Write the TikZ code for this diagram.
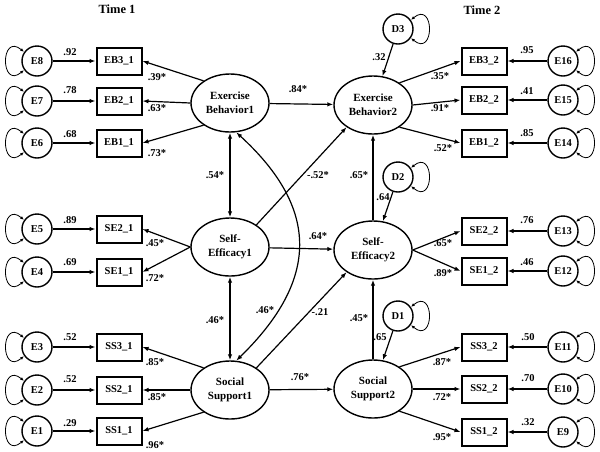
\documentclass[tikz,border=0pt]{standalone}
\usepackage{fontspec}
\setmainfont{Liberation Serif}
\usetikzlibrary{arrows.meta,shapes.geometric}
\begin{document}
\begin{tikzpicture}[x=1pt,y=-1pt,
  every node/.style={font=\bfseries\fontsize{10.5}{12}\selectfont},
  lat/.style={ellipse, draw, line width=1.4pt, minimum width=78pt, minimum height=58pt, inner sep=0pt, align=center, font=\bfseries\fontsize{11}{14}\selectfont},
  obs/.style={rectangle, draw, line width=2pt, minimum width=45pt, minimum height=27pt, inner sep=0pt},
  err/.style={circle, draw, line width=1.4pt, minimum size=30pt, inner sep=0pt},
  arr/.style={line width=1.2pt, -{Latex[length=6pt,width=4.5pt]}},
  dbl/.style={line width=1.2pt, {Latex[length=6pt,width=4.5pt]}-{Latex[length=6pt,width=4.5pt]}},
  lp/.style={line width=0.8pt, {Latex[length=4pt,width=3pt]}-{Latex[length=4pt,width=3pt]}},
  lab/.style={inner sep=0pt},
  ttl/.style={inner sep=0pt, font=\bfseries\fontsize{12.5}{14}\selectfont}
]
\useasboundingbox[fill=white] (0,0) rectangle (600,451);

% titles
\node[ttl] (t1) at (117,9) {Time 1};
\node[ttl] (t2) at (482,10) {Time 2};

% latent variables
\node[lat] (EBa) at (230,103) {Exercise\\Behavior1};
\node[lat] (SEa) at (230,247) {Self-\\Efficacy1};
\node[lat] (SSa) at (230,390) {Social\\Support1};
\node[lat] (EBb) at (373,105) {Exercise\\Behavior2};
\node[lat] (SEb) at (373,250) {Self-\\Efficacy2};
\node[lat] (SSb) at (373,389) {Social\\Support2};

% disturbances
\node[err] (D3) at (398,29) {D3};
\node[err] (D2) at (398,177) {D2};
\node[err] (D1) at (398,316) {D1};

% observed left
\node[obs] (eb31) at (119,61) {EB3\_1};
\node[obs] (eb21) at (119,101) {EB2\_1};
\node[obs] (eb11) at (119,143) {EB1\_1};
\node[obs] (se21) at (119,229) {SE2\_1};
\node[obs] (se11) at (119,272) {SE1\_1};
\node[obs] (ss31) at (119,347) {SS3\_1};
\node[obs] (ss21) at (119,390) {SS2\_1};
\node[obs] (ss11) at (119,431) {SS1\_1};
% observed right
\node[obs] (eb32) at (484,61) {EB3\_2};
\node[obs] (eb22) at (484,100) {EB2\_2};
\node[obs] (eb12) at (484,143) {EB1\_2};
\node[obs] (se22) at (484,231) {SE2\_2};
\node[obs] (se12) at (484,271) {SE1\_2};
\node[obs] (ss32) at (484,347) {SS3\_2};
\node[obs] (ss22) at (484,389) {SS2\_2};
\node[obs] (ss12) at (484,432) {SS1\_2};

% errors left
\node[err] (E8) at (37,61) {E8};
\node[err] (E7) at (37,101) {E7};
\node[err] (E6) at (37,143) {E6};
\node[err] (E5) at (37,229) {E5};
\node[err] (E4) at (37,272) {E4};
\node[err] (E3) at (37,347) {E3};
\node[err] (E2) at (37,390) {E2};
\node[err] (E1) at (37,431) {E1};
% errors right
\node[err] (E16) at (563,61) {E16};
\node[err] (E15) at (563,100) {E15};
\node[err] (E14) at (563,143) {E14};
\node[err] (E13) at (563,231) {E13};
\node[err] (E12) at (563,271) {E12};
\node[err] (E11) at (563,347) {E11};
\node[err] (E10) at (563,389) {E10};
\node[err] (E9) at (563,432) {E9};

% self loops left
\foreach \n in {E8,E7,E6,E5,E4,E3,E2,E1}{
  \draw[lp] (\n.145) .. controls +(-24,-20) and +(-24,20) .. (\n.215);
}
% self loops right
\foreach \n in {E16,E15,E14,E13,E12,E11,E10,E9,D3,D2,D1}{
  \draw[lp] (\n.35) .. controls +(24,-20) and +(24,20) .. (\n.-35);
}

% error -> indicator
\foreach \e/\b in {E8/eb31,E7/eb21,E6/eb11,E5/se21,E4/se11,E3/ss31,E2/ss21,E1/ss11,
  E16/eb32,E15/eb22,E14/eb12,E13/se22,E12/se12,E11/ss32,E10/ss22,E9/ss12}{
  \draw[arr] (\e) -- (\b);
}

% loadings left
\draw[arr] (EBa.140) -- (eb31.east);
\draw[arr] (EBa.180) -- (eb21.east);
\draw[arr] (EBa.220) -- (eb11.east);
\draw[arr] (SEa.180) -- (se21.east);
\draw[arr] (SEa.180) -- (se11.east);
\draw[arr] (SSa.140) -- (ss31.east);
\draw[arr] (SSa.180) -- (ss21.east);
\draw[arr] (SSa.220) -- (ss11.east);
% loadings right
\draw[arr] (EBb.40) -- (eb32.west);
\draw[arr] (EBb.0) -- (eb22.west);
\draw[arr] (EBb.-40) -- (eb12.west);
\draw[arr] (SEb.0) -- (se22.west);
\draw[arr] (SEb.0) -- (se12.west);
\draw[arr] (SSb.40) -- (ss32.west);
\draw[arr] (SSb.0) -- (ss22.west);
\draw[arr] (SSb.-40) -- (ss12.west);

% disturbances
\draw[arr] (D3) -- (EBb);
\draw[arr] (D2) -- (SEb);
\draw[arr] (D1) -- (SSb);

% structural paths
\draw[arr] (EBa) -- (EBb);
\draw[arr] (SEa) -- (SEb);
\draw[arr] (SSa) -- (SSb);
\draw[arr] (SEa.40) -- (EBb.220);
\draw[arr] (SSa.40) -- (SEb.220);
\draw[arr] (SEb) -- (EBb);
\draw[arr] (SSb) -- (SEb);
\draw[dbl] (EBa) -- (SEa);
\draw[dbl] (SEa) -- (SSa);
\draw[dbl] (EBa.282) .. controls (320,209) and (319,280) .. (SSa.78);

% labels left
\node[lab] (l1) at (70,52) {.92};
\node[lab] (l2) at (70,90) {.78};
\node[lab] (l3) at (70,134) {.68};
\node[lab] (l4) at (70,220) {.89};
\node[lab] (l5) at (70,262) {.69};
\node[lab] (l6) at (70,337) {.52};
\node[lab] (l7) at (70,379) {.52};
\node[lab] (l8) at (70,423) {.29};
\node[lab] (l9) at (157,77) {.39*};
\node[lab] (l10) at (157,108) {.63*};
\node[lab] (l11) at (157,153) {.73*};
\node[lab] (l12) at (155,243) {.45*};
\node[lab] (l13) at (155,278) {.72*};
\node[lab] (l14) at (155,362) {.85*};
\node[lab] (l15) at (157,397) {.85*};
\node[lab] (l16) at (155,445) {.96*};
% labels middle
\node[lab] (m1) at (298,89) {.84*};
\node[lab] (m2) at (215,175) {.54*};
\node[lab] (m3) at (318,175) {-.52*};
\node[lab] (m4) at (359,175) {.65*};
\node[lab] (m5) at (383,197) {.64};
\node[lab] (m6) at (318,236) {.64*};
\node[lab] (m7) at (215,320) {.46*};
\node[lab] (m8) at (265,310) {.46*};
\node[lab] (m9) at (320,312) {-.21};
\node[lab] (m10) at (359,318) {.45*};
\node[lab] (m11) at (380,337) {.65};
\node[lab] (m12) at (300,377) {.76*};
\node[lab] (m13) at (379,57) {.32};
% labels right
\node[lab] (r1) at (440,76) {.35*};
\node[lab] (r2) at (440,108) {.91*};
\node[lab] (r3) at (443,148) {.52*};
\node[lab] (r4) at (443,243) {.65*};
\node[lab] (r5) at (443,273) {.89*};
\node[lab] (r6) at (442,362) {.87*};
\node[lab] (r7) at (442,397) {.72*};
\node[lab] (r8) at (442,437) {.95*};
\node[lab] (r9) at (527,50) {.95};
\node[lab] (r10) at (527,91) {.41};
\node[lab] (r11) at (527,133) {.85};
\node[lab] (r12) at (527,220) {.76};
\node[lab] (r13) at (527,262) {.46};
\node[lab] (r14) at (528,337) {.50};
\node[lab] (r15) at (528,378) {.70};
\node[lab] (r16) at (528,422) {.32};
\end{tikzpicture}
\end{document}
